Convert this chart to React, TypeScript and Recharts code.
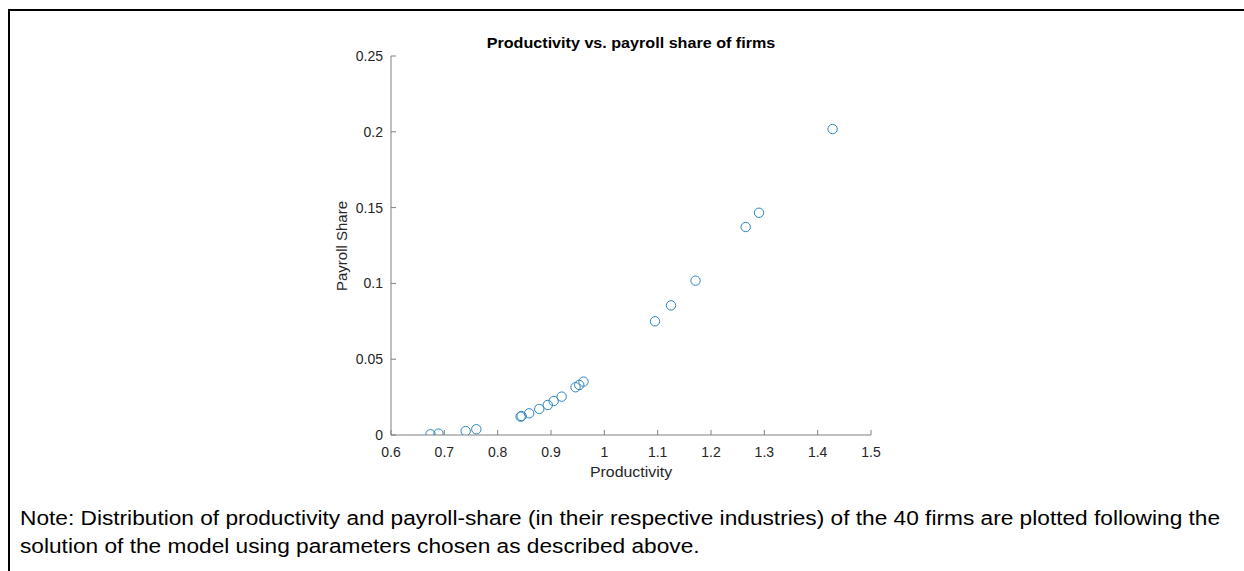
import React from 'react';
import { ScatterChart, Scatter, XAxis, YAxis } from 'recharts';

const productivity = [0.674, 0.689, 0.740, 0.760, 0.843, 0.845, 0.859, 0.878, 0.894, 0.905, 0.920, 0.946, 0.953, 0.961, 1.095, 1.125, 1.171, 1.265, 1.290, 1.428];
const payrollShare = [0.0005, 0.0009, 0.0026, 0.0038, 0.0121, 0.0125, 0.0143, 0.0172, 0.0198, 0.0224, 0.0253, 0.0315, 0.0330, 0.0352, 0.0750, 0.0855, 0.1018, 0.1372, 0.1466, 0.2018];
const xTicks = [0.6, 0.7, 0.8, 0.9, 1, 1.1, 1.2, 1.3, 1.4, 1.5];
const yTicks = [0, 0.05, 0.1, 0.15, 0.2, 0.25];

const chartTitle = 'Productivity vs. payroll share of firms';
const xLabel = 'Productivity';
const yLabel = 'Payroll Share';
const noteLines = [
  'Note: Distribution of productivity and payroll-share (in their respective industries) of the 40 firms are plotted following the',
  'solution of the model using parameters chosen as described above.',
];

const data = productivity.map((x, i) => ({ x, y: payrollShare[i] }));

const FONT = '"Liberation Sans", Arial, Helvetica, sans-serif';
const AXIS_COLOR = '#808080';
const TEXT_COLOR = '#262626';
const MARKER = '#2f86c0';

const XTick = (props: any) => {
  const { x, y, payload } = props;
  return (
    <g>
      <line x1={x} y1={y} x2={x} y2={y - 5} stroke={AXIS_COLOR} strokeWidth={1} />
      <text x={x} y={y + 22} textAnchor="middle" fontSize={14} fill={TEXT_COLOR} fontFamily={FONT}>
        {String(payload.value)}
      </text>
    </g>
  );
};

const YTick = (props: any) => {
  const { x, y, payload } = props;
  return (
    <g>
      <line x1={x} y1={y} x2={x + 5} y2={y} stroke={AXIS_COLOR} strokeWidth={1} />
      <text x={x - 8} y={y} dy="0.36em" textAnchor="end" fontSize={14} fill={TEXT_COLOR} fontFamily={FONT}>
        {String(payload.value)}
      </text>
    </g>
  );
};

const Ring = (props: any) => {
  const { cx, cy } = props;
  return <circle cx={cx} cy={cy} r={4.7} fill="none" stroke={MARKER} strokeWidth={1} />;
};

export default function App() {
  return (
    <div
      style={{
        position: 'absolute',
        left: 0,
        top: 0,
        width: 1244,
        height: 571,
        overflow: 'hidden',
        background: '#ffffff',
        fontFamily: FONT,
      }}
    >
      <div
        style={{
          position: 'absolute',
          left: 8,
          top: 9,
          width: 1300,
          height: 700,
          borderLeft: '2px solid #000',
          borderTop: '2px solid #000',
        }}
      />
      <div style={{ position: 'absolute', left: 0, top: 0 }}>
        <ScatterChart width={1244} height={571} margin={{ top: 56, right: 373, left: 331, bottom: 96 }}>
          <XAxis
            type="number"
            dataKey="x"
            domain={[0.6, 1.5]}
            ticks={xTicks}
            allowDataOverflow
            height={40}
            axisLine={{ stroke: AXIS_COLOR }}
            tickLine={false}
            tickSize={0}
            tickMargin={0}
            tick={<XTick />}
            interval={0}
          />
          <YAxis
            type="number"
            dataKey="y"
            domain={[0, 0.25]}
            ticks={yTicks}
            allowDataOverflow
            width={60}
            axisLine={{ stroke: AXIS_COLOR }}
            tickLine={false}
            tickSize={0}
            tickMargin={0}
            tick={<YTick />}
            interval={0}
          />
          <Scatter data={data} shape={<Ring />} isAnimationActive={false} />
        </ScatterChart>
      </div>
      <div
        style={{
          position: 'absolute',
          left: 431,
          width: 400,
          top: 34,
          textAlign: 'center',
          fontWeight: 'bold',
          fontSize: 15,
          color: '#000',
          lineHeight: '18px',
          transform: 'scaleX(1.075)',
          transformOrigin: '200px 0',
        }}
      >
        {chartTitle}
      </div>
      <div
        style={{
          position: 'absolute',
          left: 531,
          width: 200,
          top: 463,
          textAlign: 'center',
          fontSize: 15,
          color: TEXT_COLOR,
          lineHeight: '18px',
          transform: 'scaleX(1.06)',
          transformOrigin: '100px 0',
        }}
      >
        {xLabel}
      </div>
      <div
        style={{
          position: 'absolute',
          left: 242,
          top: 237,
          width: 200,
          textAlign: 'center',
          fontSize: 15,
          color: TEXT_COLOR,
          lineHeight: '18px',
          transform: 'rotate(-90deg)',
        }}
      >
        {yLabel}
      </div>
      <div
        style={{
          position: 'absolute',
          left: 20,
          top: 504,
          fontSize: 20,
          lineHeight: '28px',
          color: '#000',
          whiteSpace: 'nowrap',
          transform: 'scaleX(1.134)',
          transformOrigin: '0 0',
        }}
      >
        {noteLines.map((line, i) => (
          <div key={i}>{line}</div>
        ))}
      </div>
    </div>
  );
}
